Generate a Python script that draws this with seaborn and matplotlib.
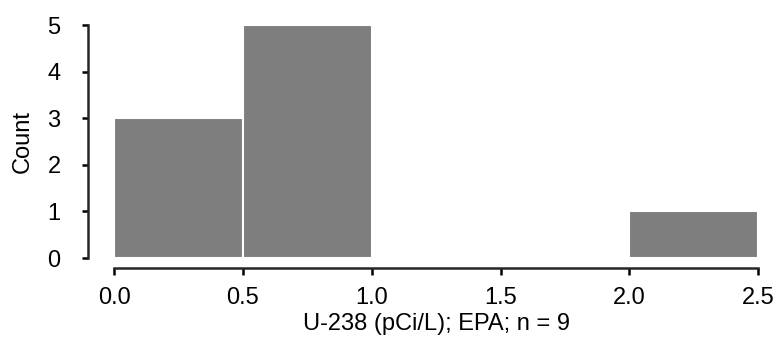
import matplotlib
matplotlib.use("Agg")
import matplotlib.pyplot as plt
import seaborn as sns
import numpy as np

# histogram bins (pCi/L) and sample counts
bin_edges = [0.0, 0.5, 1.0, 1.5, 2.0, 2.5]
counts = [3, 5, 0, 0, 1]
x_ticks = [0.0, 0.5, 1.0, 1.5, 2.0, 2.5]
y_ticks = [0, 1, 2, 3, 4, 5]

centers = [(a + b) / 2 for a, b in zip(bin_edges[:-1], bin_edges[1:])]

sns.set_style("ticks")
plt.rcParams['font.family'] = ['Liberation Sans', 'DejaVu Sans']
plt.rcParams['text.color'] = 'black'
plt.rcParams['axes.labelcolor'] = 'black'

fig = plt.figure(figsize=(7.76, 3.64), dpi=100)
ax = fig.add_axes([0.147, 0.291, 0.83, 0.64])

sns.histplot(x=centers, weights=counts, bins=bin_edges, ax=ax,
             color="#7e7e7e", alpha=1.0, edgecolor="white", linewidth=1.5)

ax.set_xlim(0, 2.5)
ax.set_ylim(0, 5)
ax.set_xticks(x_ticks)
ax.set_xticklabels([f"{t:.1f}" for t in x_ticks])
ax.set_yticks(y_ticks)
ax.tick_params(axis="both", labelsize=17, width=1.8, length=5, colors="black")
ax.tick_params(axis="x", pad=9)
ax.tick_params(axis="y", length=4.5, pad=15)
ax.set_xlabel("U-238 (pCi/L); EPA; n = 9", fontsize=17, labelpad=3)
ax.set_ylabel("Count", fontsize=17, labelpad=10)

sns.despine(ax=ax)
# offsets are in points: 19pt ~ 26px, 7pt ~ 10px at 100 dpi
ax.spines["left"].set_position(("outward", 19))
ax.spines["bottom"].set_position(("outward", 7))
for s in ("left", "bottom"):
    ax.spines[s].set_linewidth(1.8)

fig.savefig("out.png", dpi=100)
